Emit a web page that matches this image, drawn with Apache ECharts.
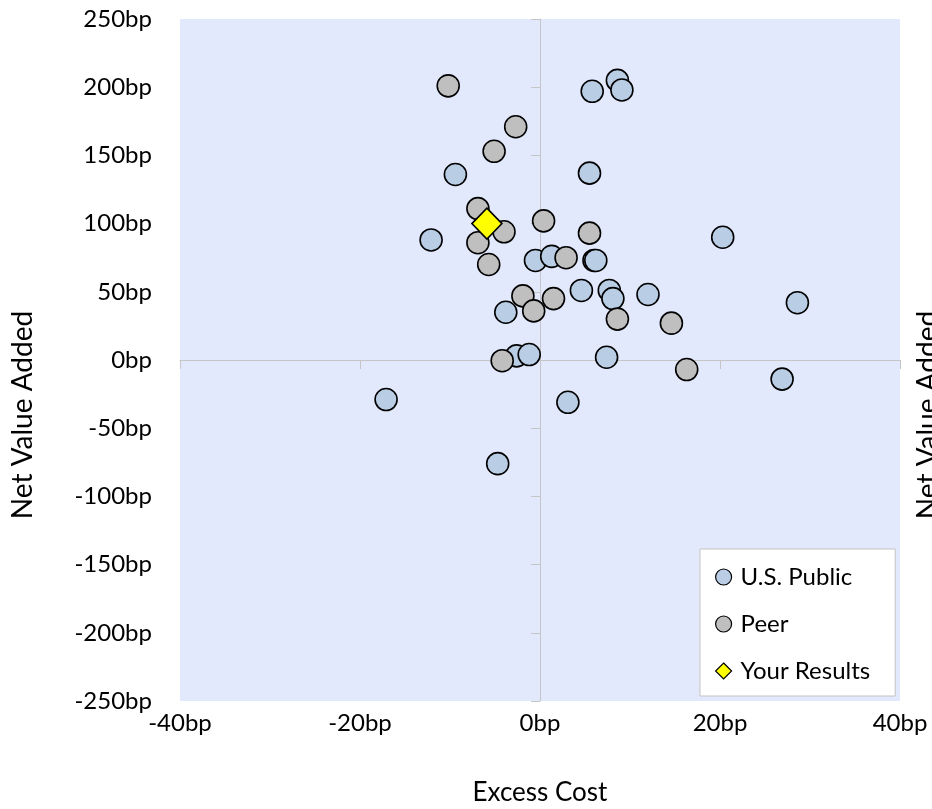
<!DOCTYPE html>
<html>
<head>
<meta charset="utf-8">
<script src="https://cdn.jsdelivr.net/npm/echarts@6/dist/echarts.min.js"></script>
<style>
html,body{margin:0;padding:0;background:#fff;}
#chart{width:932px;height:809px;}
</style>
</head>
<body>
<div id="chart"></div>
<script>
// Excess Cost (bp), Net Value Added (bp)
const usPublic = [[5.8,197],[8.6,205],[9.1,198],[5.5,137],[-9.4,136],[-12.1,88],[20.3,90],[-0.5,73],[1.3,76],[6.0,73],[6.2,73],[-3.8,35],[4.6,51],[7.7,51],[8.1,45],[12.0,48],[28.6,42],[-2.6,3],[-1.2,4],[7.4,2],[26.9,-14],[3.1,-31],[-17.1,-29],[-4.7,-76]];
const peer = [[-10.2,201],[-2.7,171],[-5.1,153],[-6.9,111],[-4.0,94],[-6.9,86],[0.4,102],[-5.7,70],[2.9,75],[5.5,93],[-1.9,47],[-0.7,36],[1.5,45],[8.6,30],[14.6,27],[-4.2,-0.5],[16.3,-7]];
const yourResults = [[-5.9,100]];
const seriesNames = ['U.S. Public','Peer','Your Results'];
const xTitle = 'Excess Cost';
const yTitle = 'Net Value Added';
const xRange = [-40, 40, 20];
const yRange = [-250, 250, 50];

const FONT = 'Lato';
const chart = echarts.init(document.getElementById('chart'), null, {renderer:'canvas'});
const lineColor = '#c6c6c6';
const fmt = v => v + 'bp';
chart.setOption({
  animation:false,
  textStyle:{fontFamily:FONT},
  grid:{left:180, top:19, width:720, height:682, show:true, backgroundColor:'#e3e9fc', borderWidth:0},
  xAxis:[
    {type:'value', min:xRange[0], max:xRange[1], interval:xRange[2], position:'bottom',
     axisLine:{show:false,onZero:false}, axisTick:{show:false}, splitLine:{show:false},
     axisLabel:{formatter:fmt, fontSize:24, color:'#000', margin:10, fontFamily:FONT}},
    {type:'value', min:xRange[0], max:xRange[1], interval:xRange[2], position:'bottom',
     axisLine:{show:true,onZero:true,onZeroAxisIndex:1,lineStyle:{color:lineColor,width:1}},
     axisTick:{show:true,length:9,lineStyle:{color:lineColor}}, splitLine:{show:false},
     axisLabel:{show:false}}
  ],
  yAxis:[
    {type:'value', min:yRange[0], max:yRange[1], interval:yRange[2], position:'left',
     axisLine:{show:false,onZero:false}, axisTick:{show:false}, splitLine:{show:false},
     axisLabel:{formatter:fmt, fontSize:24, color:'#000', margin:28, fontFamily:FONT}},
    {type:'value', min:yRange[0], max:yRange[1], interval:yRange[2], position:'left',
     axisLine:{show:true,onZero:true,onZeroAxisIndex:1,lineStyle:{color:lineColor,width:1}},
     axisTick:{show:true,length:9,lineStyle:{color:lineColor}}, splitLine:{show:false},
     axisLabel:{show:false}}
  ],
  legend:{
    orient:'vertical', left:700, top:549,
    padding:[16,25,13,15], itemGap:23, itemWidth:16, itemHeight:16,
    backgroundColor:'#ffffff', borderColor:'#c3c3c3', borderWidth:1,
    textStyle:{fontSize:24, lineHeight:24, color:'#000', fontFamily:FONT, padding:[0,0,0,4]},
    itemStyle:{borderWidth:1.2},
    data:seriesNames
  },
  series:[
    {name:seriesNames[0], type:'scatter', xAxisIndex:0, yAxisIndex:0, data:usPublic, symbol:'circle', symbolSize:22,
     itemStyle:{color:'#b9cde5', borderColor:'#000', borderWidth:1.6, opacity:1}, z:3},
    {name:seriesNames[1], type:'scatter', xAxisIndex:0, yAxisIndex:0, data:peer, symbol:'circle', symbolSize:22,
     itemStyle:{color:'#bfbfbf', borderColor:'#000', borderWidth:1.6, opacity:1}, z:4},
    {name:seriesNames[2], type:'scatter', xAxisIndex:0, yAxisIndex:0, data:yourResults, symbol:'diamond', symbolSize:[30,31],
     itemStyle:{color:'#ffff00', borderColor:'#000', borderWidth:1.6, opacity:1}, z:5}
  ],
  graphic:[
    {type:'text', x:540, y:793, style:{text:xTitle, font:'26px '+FONT, fill:'#000', textAlign:'center', textVerticalAlign:'middle'}},
    {type:'text', x:23, y:415, rotation:Math.PI/2, style:{text:yTitle, font:'28px '+FONT, fill:'#000', textAlign:'center', textVerticalAlign:'middle'}},
    {type:'text', x:928, y:415, rotation:Math.PI/2, style:{text:yTitle, font:'28px '+FONT, fill:'#000', textAlign:'center', textVerticalAlign:'middle'}}
  ]
});
</script>
</body>
</html>
